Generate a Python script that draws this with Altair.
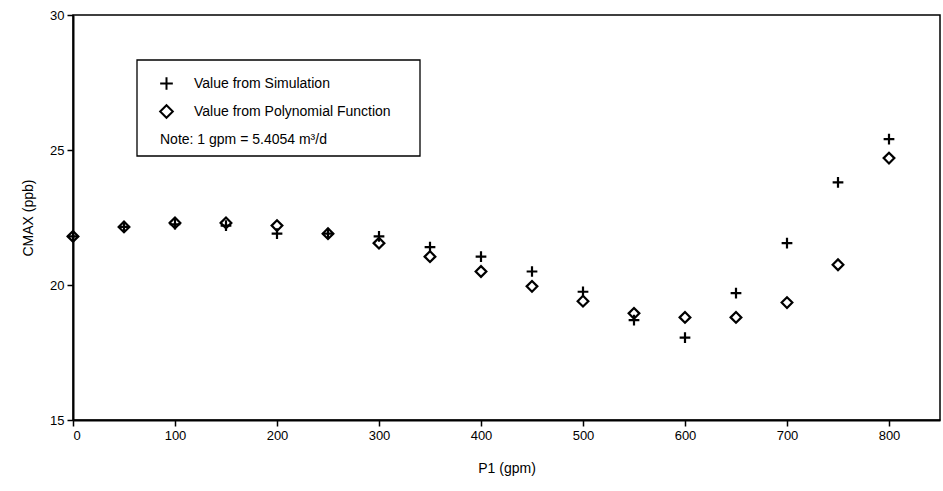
import altair as alt
import pandas as pd

p1 = [0, 50, 100, 150, 200, 250, 300, 350, 400, 450, 500, 550, 600, 650, 700, 750, 800]
sim = [21.8, 22.15, 22.25, 22.2, 21.9, 21.9, 21.8, 21.4, 21.05, 20.5, 19.75, 18.7, 18.05, 19.7, 21.55, 23.8, 25.4]
poly = [21.8, 22.15, 22.3, 22.3, 22.2, 21.9, 21.55, 21.05, 20.5, 19.95, 19.4, 18.95, 18.8, 18.8, 19.35, 20.75, 24.7]
names = ["Value from Simulation", "Value from Polynomial Function"]
note_text = ["Note: 1 gpm = 5.4054 m\u00b3/d"]
x_ticks = [0, 100, 200, 300, 400, 500, 600, 700, 800]
y_ticks = [15, 20, 25, 30]

df = pd.DataFrame({
    "P1": p1 + p1,
    "CMAX": sim + poly,
    "series": [names[0]] * len(p1) + [names[1]] * len(p1),
})
note_df = pd.DataFrame({"note": note_text})

FONT = "Liberation Sans"
plus_path = "M-1,0L1,0M0,-1L0,1"

box = alt.Chart(note_df).mark_rect(fill="white", stroke="black", strokeWidth=1.3).encode(
    x=alt.value(64), x2=alt.value(347), y=alt.value(45), y2=alt.value(141)
)

points = alt.Chart(df).mark_point(filled=False, strokeWidth=2.2, opacity=1, color="black", size=115).encode(
    x=alt.X("P1:Q", scale=alt.Scale(domain=[0, 850], nice=False, zero=False),
            axis=alt.Axis(values=x_ticks, title="P1 (gpm)", format="d")),
    y=alt.Y("CMAX:Q", scale=alt.Scale(domain=[15, 30], nice=False, zero=False),
            axis=alt.Axis(values=y_ticks, title="CMAX (ppb)", format="d")),
    shape=alt.Shape("series:N", scale=alt.Scale(domain=names, range=[plus_path, "diamond"]),
                    legend=alt.Legend(title=None, orient="none", legendX=86, legendY=61,
                                      symbolSize=160, symbolStrokeWidth=2, symbolStrokeColor="black",
                                      symbolFillColor="transparent", symbolType="circle",
                                      labelFontSize=14, labelFont=FONT, labelColor="black",
                                      labelOffset=20, labelLimit=0, rowPadding=7, padding=0,
                                      zindex=1)),
)

note = alt.Chart(note_df).mark_text(align="left", baseline="middle", font=FONT, fontSize=14,
                                    color="black").encode(
    x=alt.value(87), y=alt.value(125), text="note:N"
)

chart = alt.layer(box, points, note).properties(
    width=867, height=405,
    autosize=alt.AutoSizeParams(type="none"),
    padding={"left": 73, "top": 15, "right": 3, "bottom": 71},
).configure_view(
    stroke="black", strokeWidth=1.5
).configure_axis(
    grid=False, domainColor="black", domainWidth=2, tickColor="black", tickWidth=1.5,
    tickSize=6, labelColor="black", labelFont=FONT, labelFontSize=13,
    titleFont=FONT, titleFontSize=14, titleFontWeight="normal", titleColor="black",
    labelPadding=3,
).configure_axisX(titlePadding=19).configure_axisY(titlePadding=14)

chart.save("out.html", embed_options={"renderer": "svg", "actions": False})
